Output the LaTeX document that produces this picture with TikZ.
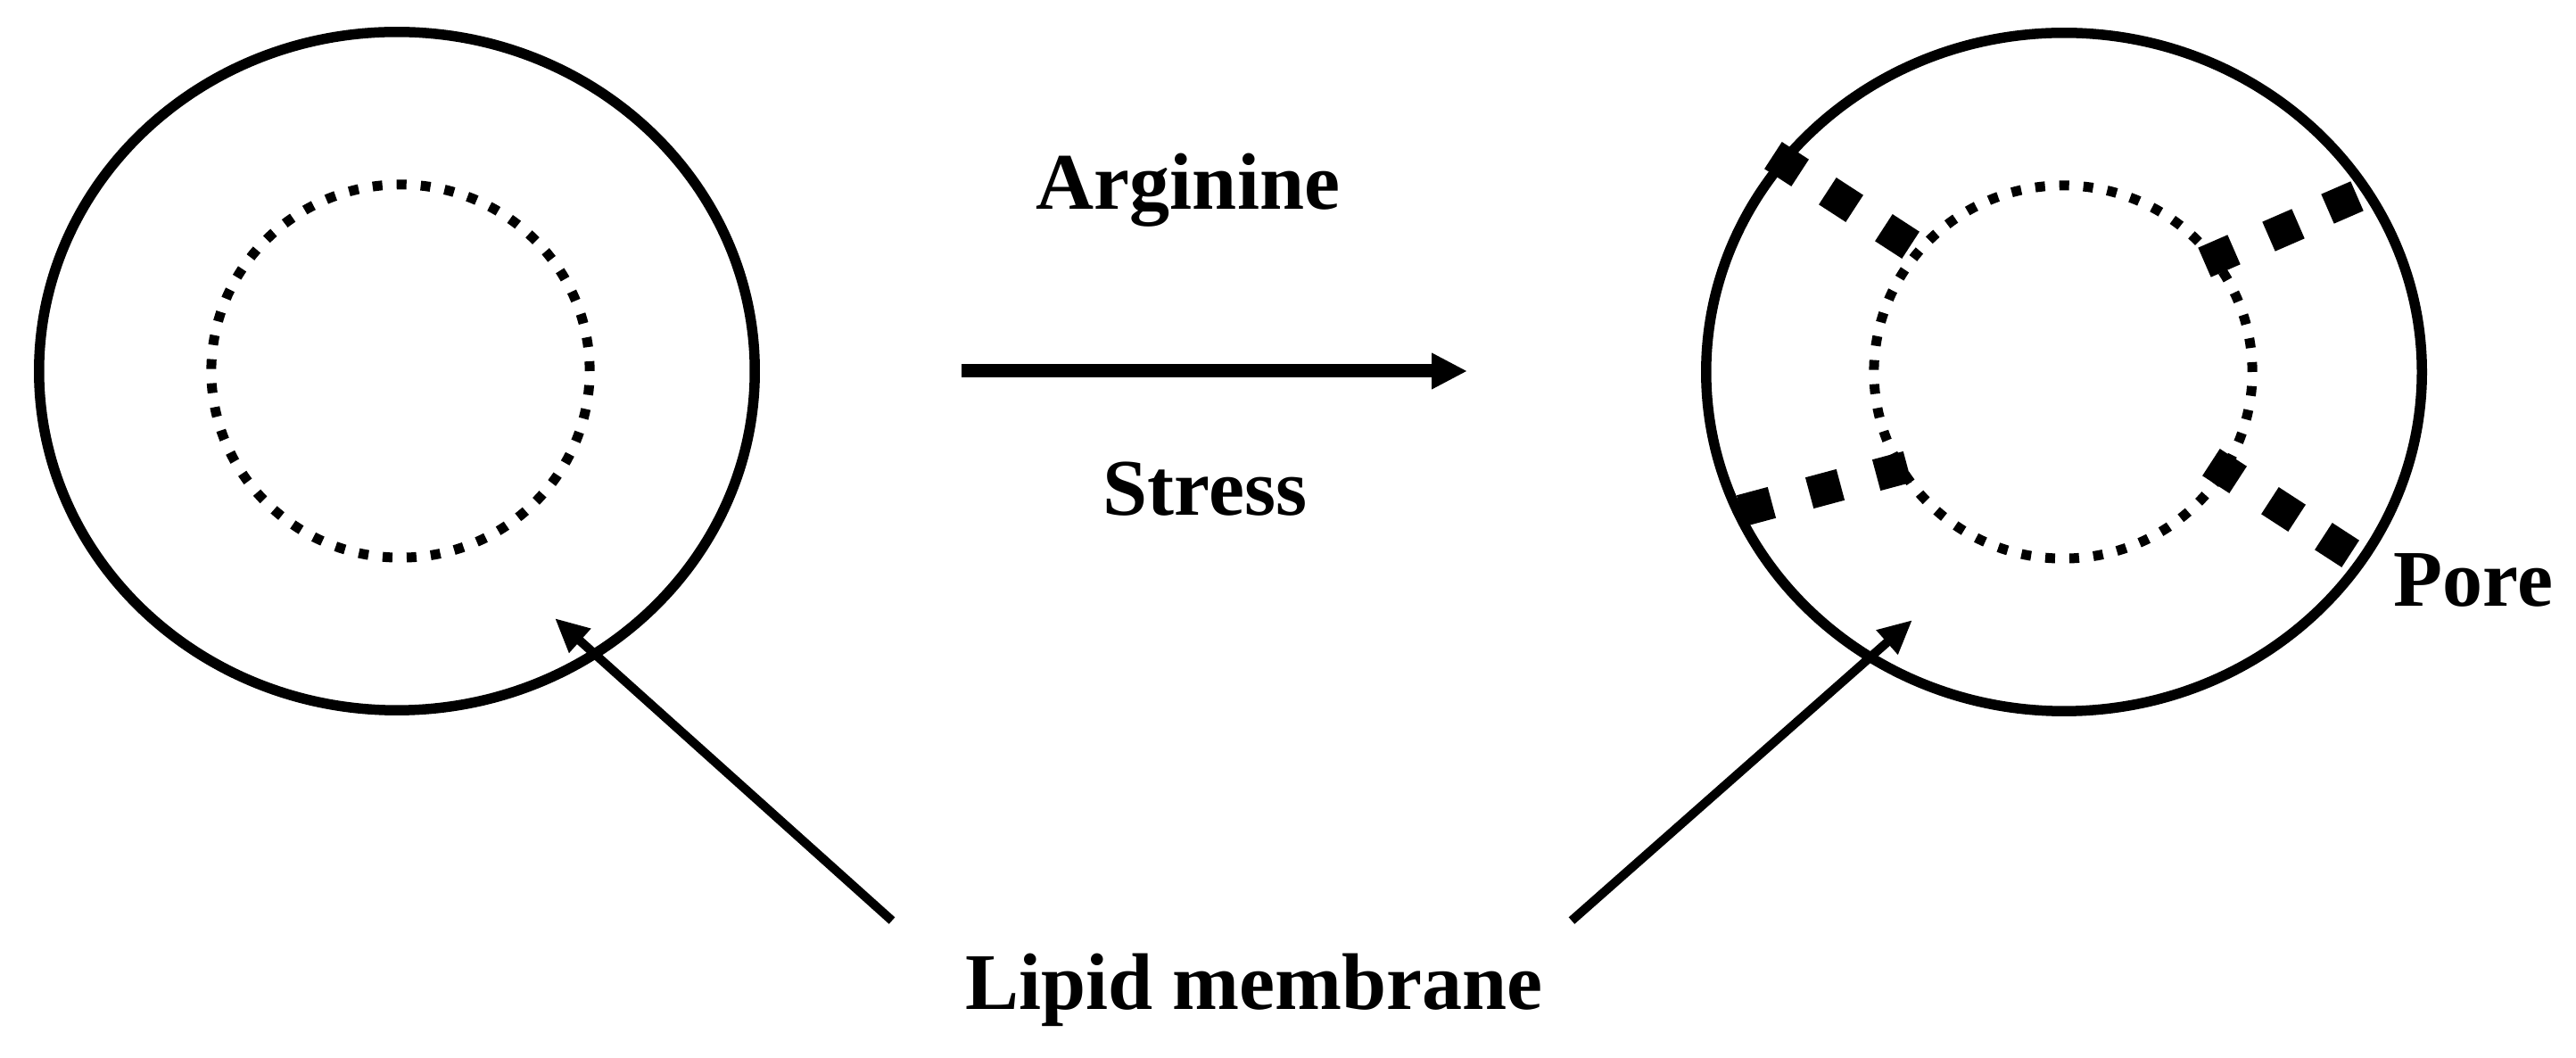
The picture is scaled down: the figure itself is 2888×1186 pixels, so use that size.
\documentclass[tikz,border=0pt]{standalone}
\usepackage{fontspec}
\setmainfont{Liberation Serif}
\usetikzlibrary{arrows.meta,shapes.geometric}
\begin{document}
\begin{tikzpicture}[x=0.01cm, y=-0.01cm,
  membrane/.style={draw, ellipse, line width=0.115cm, inner sep=0pt, outer sep=0pt, minimum width=8.02cm, minimum height=7.6cm},
  vesicle/.style={draw, ellipse, line width=0.11cm, inner sep=0pt, outer sep=0pt, dash pattern=on 0.11cm off 0.16cm, line cap=butt, minimum width=4.24cm, minimum height=4.18cm},
  poresq/.style={fill=black, rectangle, inner sep=0pt, outer sep=0pt, minimum size=0.36cm},
  lbl/.style={font=\fontsize{25.6}{30}\selectfont\bfseries, inner sep=0pt},
  pointer/.style={line width=0.1cm, -{Triangle[length=0.38cm, width=0.34cm]}},
  mainarrow/.style={line width=0.15cm, -{Triangle[length=0.4cm, width=0.38cm]}}]
\path[use as bounding box] (0,0) rectangle (2888,1186);

% left cell
\node[membrane] (cellL) at (445,416) {};
\node[vesicle] (vacL) at (449,416) {};

% right cell
\node[membrane] (cellR) at (2314,417) {};
\node[vesicle] (vacR) at (2313,417) {};

% pores
\node[poresq, rotate=57] (ul1) at (2003,184) {};
\node[poresq, rotate=57] (ul2) at (2064,224) {};
\node[poresq, rotate=57] (ul3) at (2127,265) {};
\node[poresq, rotate=23.5] (ur1) at (2626,227) {};
\node[poresq, rotate=23.5] (ur2) at (2560,258) {};
\node[poresq, rotate=23.5] (ur3) at (2488,287) {};
\node[poresq, rotate=15] (ll1) at (1969,568) {};
\node[poresq, rotate=15] (ll2) at (2046,548) {};
\node[poresq, rotate=15] (ll3) at (2121,528) {};
\node[poresq, rotate=-33] (lr1) at (2620,611) {};
\node[poresq, rotate=-33] (lr2) at (2560,571) {};
\node[poresq, rotate=-33] (lr3) at (2494,528) {};

% labels
\node[lbl, anchor=base] (arg) at (1332,235) {Arginine};
\node[lbl, anchor=base] (str) at (1351,578) {Stress};
\node[lbl, anchor=base] (lip) at (1406,1131) {Lipid membrane};
\node[lbl, anchor=base west] (pore) at (2683,680) {Pore};

% main arrow
\coordinate (mS) at (1078,416);
\coordinate (mE) at (1645,416);
\draw[mainarrow] (mS) -- (mE);

% pointers
\coordinate (ltail) at (1000,1032);
\coordinate (lhead) at (622,693);
\coordinate (rtail) at (1762,1032);
\coordinate (rhead) at (2144,695);
\draw[pointer] (ltail) -- (lhead);
\draw[pointer] (rtail) -- (rhead);
\end{tikzpicture}
\end{document}
